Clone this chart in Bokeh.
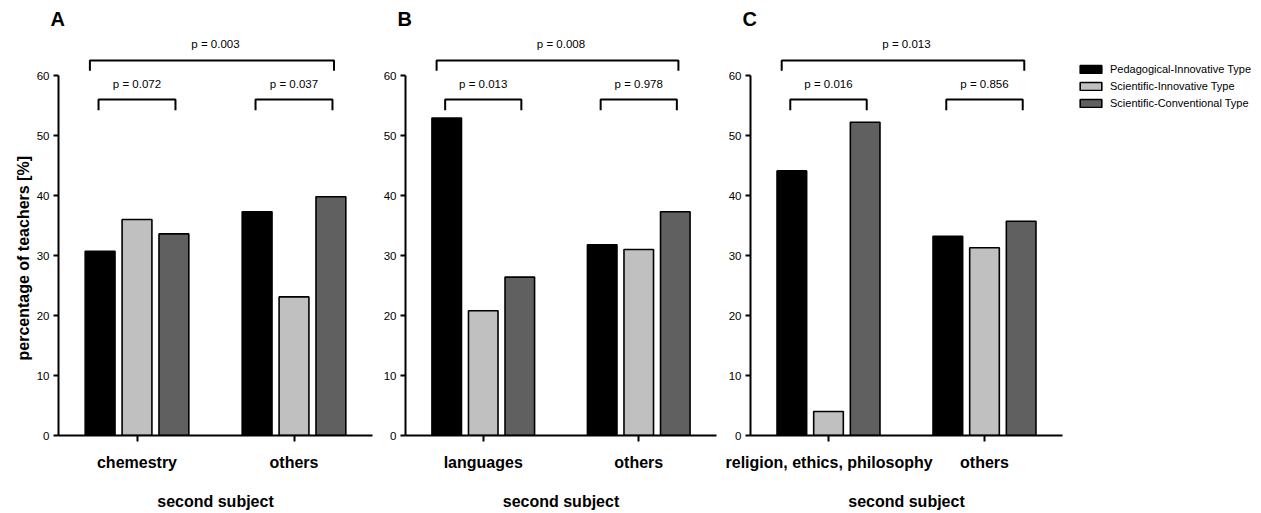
from bokeh.plotting import figure
from bokeh.layouts import row
from bokeh.models import FactorRange, Range1d, FixedTicker, Legend, LegendItem, ColumnDataSource, Title
from bokeh.transform import dodge
from bokeh.embed import file_html
from bokeh.resources import INLINE
from bokeh.core.properties import value

# ---------------- data ----------------
panel_letters = ["A", "B", "C"]
categories_A = ["chemestry", "others"]
categories_B = ["languages", "others"]
categories_C = ["religion, ethics, philosophy", "others"]

type_names = ["Pedagogical-Innovative Type", "Scientific-Innovative Type", "Scientific-Conventional Type"]

ped_innov_A = [30.7, 37.3]
sci_innov_A = [36.0, 23.1]
sci_conv_A = [33.6, 39.8]

ped_innov_B = [52.9, 31.8]
sci_innov_B = [20.8, 31.0]
sci_conv_B = [26.4, 37.3]

ped_innov_C = [44.1, 33.2]
sci_innov_C = [4.0, 31.3]
sci_conv_C = [52.2, 35.7]

p_within_A = ["p = 0.072", "p = 0.037"]
p_between_A = "p = 0.003"
p_within_B = ["p = 0.013", "p = 0.978"]
p_between_B = "p = 0.008"
p_within_C = ["p = 0.016", "p = 0.856"]
p_between_C = "p = 0.013"

y_ticks = [0, 10, 20, 30, 40, 50, 60]
y_title = "percentage of teachers [%]"
x_title = "second subject"

# ---------------- style ----------------
FONT = "Liberation Sans"
type_colors = ["#000000", "#c0c0c0", "#606060"]
bar_offsets = [-0.235, 0.0, 0.235]
BAR_W = 0.19
TOP_BORDER = 30
BOTTOM_BORDER = 78
FIG_H = 513
Y_END = (FIG_H - TOP_BORDER - BOTTOM_BORDER) / 6.0


def make_panel(letter, cats, series, p_within, p_between, width, left, right, ylabel=None):
    p = figure(x_range=FactorRange(*cats), y_range=Range1d(0, Y_END),
               width=width, height=FIG_H, output_backend="svg", toolbar_location=None,
               min_border_left=left, min_border_right=right, min_border_top=TOP_BORDER,
               min_border_bottom=BOTTOM_BORDER, title=letter)
    p.title.align = "left"
    p.title.offset = -8
    p.title.standoff = 2
    p.title.vertical_align = "bottom"
    p.title.text_font = FONT
    p.title.text_font_size = "20px"
    p.title.text_font_style = "bold"
    p.title.text_color = "black"

    src = ColumnDataSource(dict(cat=cats, s0=series[0], s1=series[1], s2=series[2]))
    rends = []
    for k in range(3):
        r = p.vbar(x=dodge("cat", bar_offsets[k], range=p.x_range), top="s%d" % k, width=BAR_W,
                   bottom=0, source=src, fill_color=type_colors[k], line_color="black", line_width=1.6)
        rends.append(r)

    # significance brackets
    xs, ys = [], []
    for i in range(len(cats)):
        c = i + 0.5
        x0, x1 = c - 0.245, c + 0.245
        xs.append([x0, x0, x1, x1])
        ys.append([54.2, 56.0, 56.0, 54.2])
    xs.append([0.2, 0.2, 1.755, 1.755])
    ys.append([60.8, 62.5, 62.5, 60.8])
    p.multi_line(xs=xs, ys=ys, line_color="black", line_width=2)

    tx = [i + 0.5 for i in range(len(cats))] + [len(cats) / 2]
    ty = [58.6] * len(cats) + [65.2]
    tt = list(p_within) + [p_between]
    p.text(x=tx, y=ty, text=tt, text_font=value(FONT), text_font_size="11.5px",
           text_align="center", text_baseline="middle", text_color="black")

    p.xgrid.visible = False
    p.ygrid.visible = False
    p.outline_line_color = None

    xa = p.xaxis[0]
    xa.axis_line_width = 2
    xa.major_tick_line_width = 2
    xa.major_tick_in = 0
    xa.major_tick_out = 6
    xa.major_label_text_font = FONT
    xa.major_label_text_font_size = "16px"
    xa.major_label_text_font_style = "bold"
    xa.major_label_text_color = "black"
    xa.major_label_standoff = 12
    xa.axis_label = x_title
    xa.axis_label_text_font = FONT
    xa.axis_label_text_font_size = "16px"
    xa.axis_label_text_font_style = "bold"
    xa.axis_label_text_color = "black"
    xa.axis_label_standoff = 19

    ya = p.yaxis[0]
    ya.ticker = FixedTicker(ticks=y_ticks)
    ya.bounds = (0, 60)
    ya.axis_line_width = 2
    ya.major_tick_line_width = 2
    ya.major_tick_in = 0
    ya.major_tick_out = 5
    ya.minor_tick_line_color = None
    ya.major_label_text_font = FONT
    ya.major_label_text_font_size = "11.5px"
    ya.major_label_text_color = "black"
    ya.major_label_standoff = 4
    if ylabel:
        t = Title(text=ylabel, align="left", offset=75, standoff=4,
                  text_font=FONT, text_font_size="16px", text_font_style="bold",
                  text_color="black")
        p.add_layout(t, "left")
    return p, rends


pA, _ = make_panel(panel_letters[0], categories_A, [ped_innov_A, sci_innov_A, sci_conv_A],
                   p_within_A, p_between_A, 380, 58, 8, y_title)
pB, _ = make_panel(panel_letters[1], categories_B, [ped_innov_B, sci_innov_B, sci_conv_B],
                   p_within_B, p_between_B, 345, 22, 9)
pC, rC = make_panel(panel_letters[2], categories_C, [ped_innov_C, sci_innov_C, sci_conv_C],
                    p_within_C, p_between_C, 346, 23, 9)

# legend in its own blank figure to the right of panel C
pL = figure(width=190, height=FIG_H, output_backend="svg", toolbar_location=None,
            x_axis_type=None, y_axis_type=None, min_border=0,
            x_range=Range1d(0, 1), y_range=Range1d(0, 1))
pL.xgrid.visible = False
pL.ygrid.visible = False
pL.outline_line_color = None
# swatch-only renderers: hidden, and their single bar lies outside the visible range
leg_src = ColumnDataSource(dict(x=[5.0], top=[-5.0], bottom=[-6.0]))
leg_rends = [pL.vbar(x="x", top="top", bottom="bottom", width=0.1, source=leg_src,
                     fill_color=type_colors[k], line_color="black", line_width=1.6, visible=False)
             for k in range(3)]
legend = Legend(items=[LegendItem(label=type_names[k], renderers=[leg_rends[k]]) for k in range(3)],
                location=(6, 325), glyph_width=27, glyph_height=10, label_height=14,
                label_standoff=6, spacing=3, padding=0, margin=0, border_line_color=None,
                background_fill_alpha=0, inactive_fill_alpha=0,
                label_text_font=FONT, label_text_font_size="11px", label_text_color="black")
pL.add_layout(legend, "center")

layout = row(pA, pB, pC, pL, spacing=0)
open("out.html", "w").write(file_html(layout, INLINE))
